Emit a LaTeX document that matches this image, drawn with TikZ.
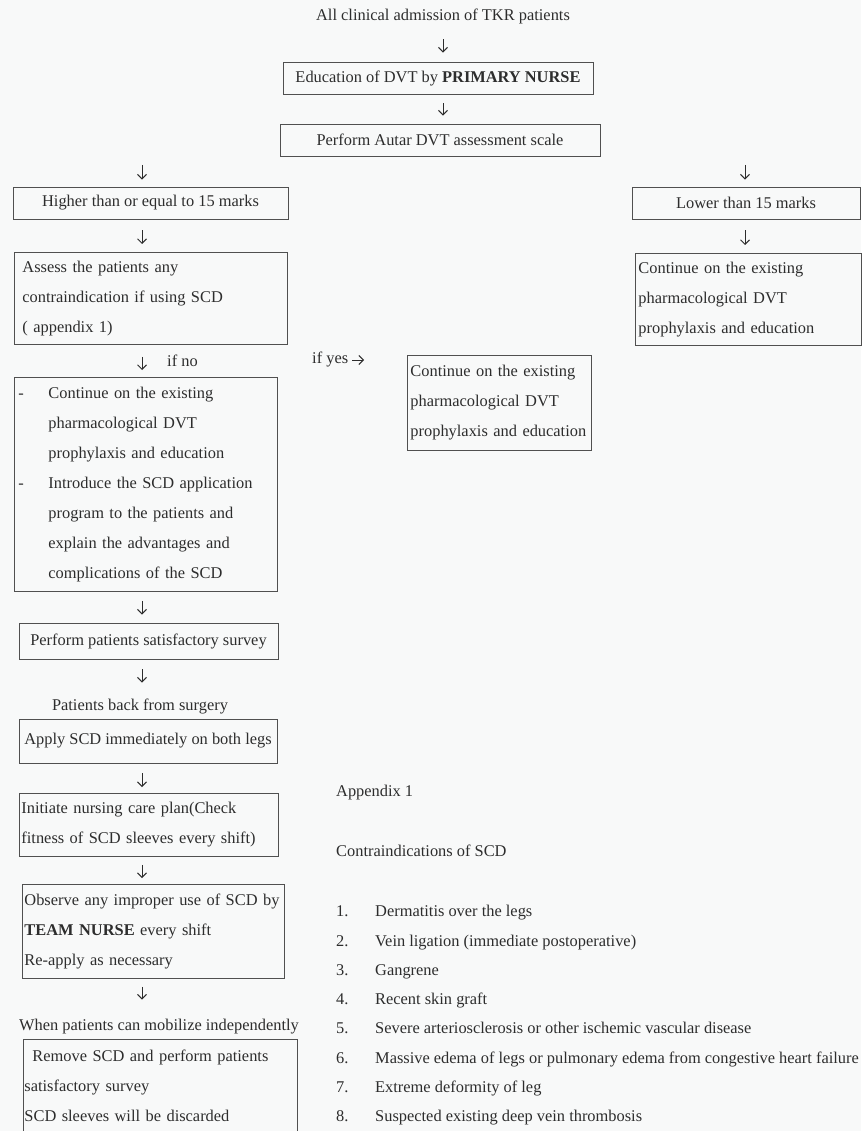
\documentclass[tikz,border=0pt]{standalone}
\usepackage{fontspec}
\setmainfont{Liberation Serif}
\usetikzlibrary{arrows.meta,positioning}
\definecolor{inkgray}{RGB}{45,45,45}
\definecolor{linegray}{RGB}{80,80,80}
\definecolor{paper}{RGB}{248,249,249}
\newcommand{\dashline}{\makebox[30pt][l]{-}}
\newcommand{\indline}{\hspace*{30pt}}

\begin{document}
\begin{tikzpicture}[x=1pt, y=-1pt,
    every node/.style={font=\fontsize{16.4}{30}\selectfont, text=inkgray},
    box/.style={draw=linegray, line width=0.9pt, inner sep=0pt, align=center},
    lbox/.style={draw=linegray, line width=0.9pt, inner ysep=0pt, align=left, anchor=north west},
    plain/.style={inner sep=0pt, text height=11pt, text depth=3.5pt},
    flow/.style={-{Straight Barb[length=4.5pt,width=9pt]}, draw=inkgray, line width=1pt, shorten <=9pt, shorten >=8pt}]

    \useasboundingbox (0,0) rectangle (861,1131);
    \fill[paper] (0,0) rectangle (861,1131);

    % --- top of the pathway ---
    \node[plain] (admit) at (443,17) {All clinical admission of TKR patients};
    \node[box, minimum width=310, minimum height=32] (educ) at (438,78)
        {Education of DVT by \textbf{PRIMARY NURSE}};
    \node[box, minimum width=320, minimum height=32] (autar) at (440,140)
        {Perform Autar DVT assessment scale};

    \coordinate (splitL) at (142,165);
    \coordinate (splitR) at (745,165);

    % --- score branches ---
    \node[box, minimum width=275, minimum height=32] (higher) at (150.5,203)
        {Higher than or equal to 15 marks};
    \node[box, minimum width=228, minimum height=32] (lower) at (746,203)
        {Lower than 15 marks};

    \node[lbox, inner xsep=8pt, text width=257, minimum height=92] (assess) at (14,252)
        {Assess the patients any\\contraindication if using SCD\\( appendix 1)};
    \node[lbox, inner xsep=3pt, text width=220, minimum height=92] (lowcont) at (635,253)
        {Continue on the existing\\pharmacological DVT\\prophylaxis and education};

    % --- contraindication check ---
    \node[plain, anchor=west] (ifno) at (167,363) {if no};
    \node[plain, anchor=west] (ifyes) at (312,360) {if yes};
    \node[lbox, inner xsep=4pt, text width=255, minimum height=214] (nocont) at (14,377)
        {\dashline Continue on the existing\\
         \indline pharmacological DVT\\
         \indline prophylaxis and education\\
         \dashline Introduce the SCD application\\
         \indline program to the patients and\\
         \indline explain the advantages and\\
         \indline complications of the SCD};
    \node[lbox, inner xsep=3pt, text width=178, minimum height=95] (yescont) at (407,355)
        {Continue on the existing\\pharmacological DVT\\prophylaxis and education};

    % --- SCD application ---
    \node[box, minimum width=259, minimum height=36] (survey) at (148.5,641)
        {Perform patients satisfactory survey};
    \node[plain] (back) at (140,707) {Patients back from surgery};
    \node[box, minimum width=258, minimum height=44] (apply) at (148,741)
        {Apply SCD immediately on both legs};
    \node[lbox, inner xsep=2pt, text width=255, minimum height=63] (careplan) at (19,793)
        {Initiate nursing care plan(Check\\fitness of SCD sleeves every shift)};
    \node[lbox, inner xsep=2pt, text width=258, minimum height=94] (observe) at (22,884)
        {Observe any improper use of SCD by\\\textbf{TEAM NURSE} every shift\\Re-apply as necessary};
    \node[plain] (mobile) at (159,1027) {When patients can mobilize independently};
    \node[lbox, inner xsep=1pt, text width=272, minimum height=92] (remove) at (23,1039)
        {\hspace*{8pt}Remove SCD and perform patients\\satisfactory survey\\SCD sleeves will be discarded};

    % --- appendix ---
    \node[plain, anchor=west] (appx) at (336,793) {Appendix 1};
    \node[plain, anchor=west] (contra) at (336,853) {Contraindications of SCD};
    \foreach \num/\txt [count=\k from 0] in {1/Dermatitis over the legs,
        2/Vein ligation (immediate postoperative), 3/Gangrene, 4/Recent skin graft,
        5/Severe arteriosclerosis or other ischemic vascular disease,
        6/Massive edema of legs or pulmonary edema from congestive heart failure,
        7/Extreme deformity of leg, 8/Suspected existing deep vein thrombosis}{
        \node[plain, anchor=west] (num\num) at (336,913+29.3*\k) {\num.};
        \node[plain, anchor=west] (item\num) at (375,913+29.3*\k) {\txt};
    }

    % --- arrows ---
    \draw[flow, shorten <=15pt, shorten >=9pt] (admit.south) -- (educ.north -| admit.south);
    \draw[flow] (educ.south -| admit.south) -- (autar.north -| admit.south);
    \draw[flow, shorten <=0pt, shorten >=7pt] (splitL) -- (higher.north -| splitL);
    \draw[flow, shorten <=0pt, shorten >=7pt] (splitR) -- (lower.north -| splitR);
    \draw[flow, shorten <=11pt] (higher.south -| splitL) -- (assess.north -| splitL);
    \draw[flow, shorten <=11pt] (lower.south -| splitR) -- (lowcont.north -| splitR);
    \draw[flow, shorten <=12pt, shorten >=7pt] (assess.south -| splitL) -- (nocont.north -| splitL);
    \draw[flow, shorten <=4pt, shorten >=43pt] (ifyes.east) -- (ifyes.east -| yescont.west);
    \draw[flow] (nocont.south -| splitL) -- (survey.north -| splitL);
    \draw[flow, shorten <=10pt, shorten >=17pt] (survey.south -| splitL) -- (back.north -| splitL);
    \draw[flow, shorten <=10pt, shorten >=6pt] (apply.south -| splitL) -- (careplan.north -| splitL);
    \draw[flow, shorten <=8pt, shorten >=6pt] (careplan.south -| splitL) -- (observe.north -| splitL);
    \draw[flow, shorten <=8pt, shorten >=20pt] (observe.south -| splitL) -- (mobile.north -| splitL);
\end{tikzpicture}
\end{document}
